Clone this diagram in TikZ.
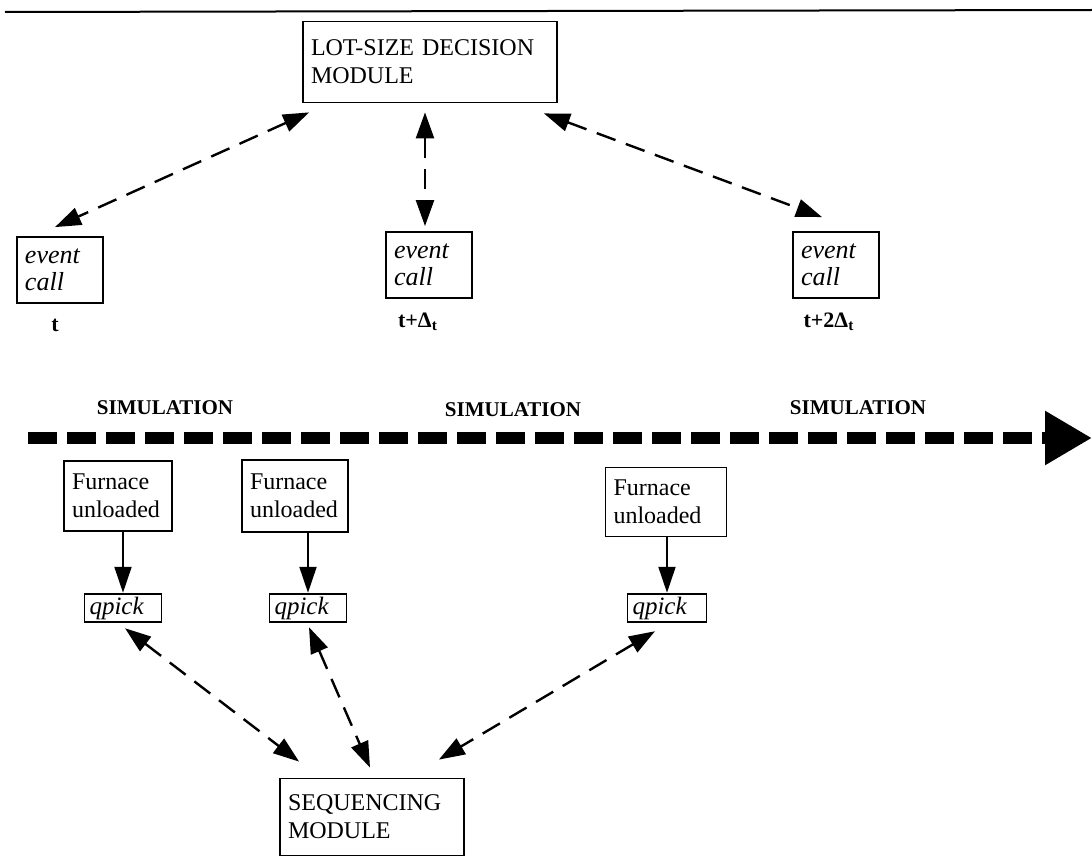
\documentclass[tikz,border=0pt]{standalone}
\usepackage{fontspec}
\setmainfont{Liberation Serif}
\usetikzlibrary{arrows.meta,calc}

\begin{document}
\begin{tikzpicture}[x=0.5pt,y=-0.5pt,
    modbox/.style={draw, line width=0.9pt, align=left, inner xsep=4pt, inner ysep=2pt, font=\fontsize{12}{14}\selectfont},
    callbox/.style={modbox, font=\fontsize{13}{13.5}\selectfont\itshape},
    dasharrow/.style={line width=1.2pt, dash pattern=on 10pt off 5.5pt, {Triangle[length=13pt,width=9pt]}-{Triangle[length=13pt,width=9pt]}},
    solidarrow/.style={line width=1pt, -{Triangle[length=13pt,width=8.5pt]}},
    timelabel/.style={font=\fontsize{11}{13}\selectfont\bfseries},
    simlabel/.style={font=\fontsize{10.5}{12}\selectfont\bfseries},
    simline/.style={line width=6pt, dash pattern=on 14.5pt off 5pt, -{Triangle[length=23.5pt,width=25.5pt]}}]
                \useasboundingbox (0,0) rectangle (1092,856);
                \draw[line width=1pt] (5,12) -- (1092,10);

                \node[modbox, text width=119pt, minimum height=40.5pt] (lotsize) at (430,62) {LOT-SIZE DECISION\\MODULE};
                \node[callbox, text width=35pt, minimum height=33pt] (event1) at (60,270) {event\\call};
                \node[callbox, text width=35pt, minimum height=33pt] (event2) at (429,265) {event\\call};
                \node[callbox, text width=35pt, minimum height=33pt] (event3) at (836,265) {event\\call};
                \node[timelabel] (time1) at (55,325) {t};
                \node[timelabel] (time2) at (418,322) {t+Δ\textsubscript{t}};
                \node[timelabel] (time3) at (829,322) {t+2Δ\textsubscript{t}};

                \node[simlabel] (sim1) at (165,408) {SIMULATION};
                \node[simlabel] (sim2) at (513,410) {SIMULATION};
                \node[simlabel] (sim3) at (858,408) {SIMULATION};
                \coordinate (simstart) at (28,438);
                \coordinate (simend) at (1092,438);
                \draw[simline] (simstart) -- (simend);

                \node[modbox, text width=46pt, minimum height=35pt] (furnace1) at (118,496) {Furnace\\unloaded};
                \node[modbox, text width=45pt, minimum height=36pt] (furnace2) at (295,496) {Furnace\\unloaded};
                \node[modbox, text width=52.5pt, minimum height=34.5pt] (furnace3) at (666,502) {Furnace\\unloaded};
                \node[callbox, font=\fontsize{12.5}{13}\selectfont\itshape, inner xsep=2.5pt, inner ysep=1.5pt, text width=33.5pt, minimum height=14pt] (qpick1) at (123,608) {qpick};
                \node[callbox, font=\fontsize{12.5}{13}\selectfont\itshape, inner xsep=2.5pt, inner ysep=1.5pt, text width=33.5pt, minimum height=14pt] (qpick2) at (308,608) {qpick};
                \node[callbox, font=\fontsize{12.5}{13}\selectfont\itshape, inner xsep=2.5pt, inner ysep=1.5pt, text width=34.5pt, minimum height=14pt] (qpick3) at (667,608) {qpick};
                \node[modbox, text width=84pt, minimum height=38.5pt] (seq) at (372,817) {SEQUENCING\\MODULE};

                \draw[dasharrow] ($(lotsize.south west)+(7,9)$) -- ($(event1.north)+(-5,-9)$);
                \draw[dasharrow] ($(lotsize.south -| event2.north)+(-4,9)$) -- ($(event2.north)+(-4,-5)$);
                \draw[dasharrow] ($(lotsize.south east)+(-14,10)$) -- ($(event3.north)+(-14,-14)$);
                \draw[solidarrow] (furnace1.south -| qpick1.north) -- (qpick1.north);
                \draw[solidarrow] (furnace2.south -| qpick2.north) -- (qpick2.north);
                \draw[solidarrow] (furnace3.south -| qpick3.north) -- (qpick3.north);
                \draw[dasharrow] ($(qpick1.south)+(2,5)$) -- ($(seq.north west)+(20,-16)$);
                \draw[dasharrow] ($(qpick2.south)+(1,4)$) -- ($(seq.north)+(-2,-10)$);
                \draw[dasharrow] ($(qpick3.south)+(-12,8)$) -- ($(seq.north east)+(-26,-18)$);
            \end{tikzpicture}
\end{document}
